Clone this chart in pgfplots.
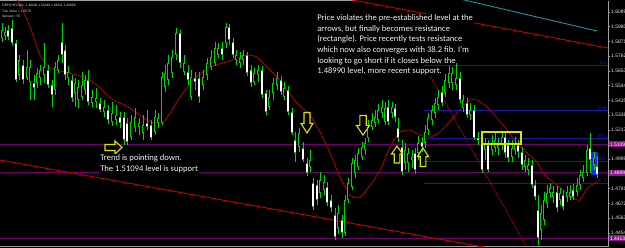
\documentclass[border=0pt]{standalone}
\usepackage{pgfplots}
\pgfplotsset{compat=1.18}
\usepackage{pgfplotstable}
\usepackage{fontspec}
\setmainfont{Carlito}
\newfontfamily\lsans{Liberation Sans}
\newcommand\tickfont{\lsans\fontsize{5}{6}\selectfont}
\newcommand\paraf{\fontsize{8.6}{10.65}\selectfont}
\newcommand\headf{\lsans\fontsize{3.3}{4}\selectfont}
\definecolor{cgreen}{RGB}{0,215,0}
\definecolor{cpurple}{RGB}{110,0,110}
\definecolor{cpurplebox}{RGB}{140,20,140}
\definecolor{cfib}{RGB}{25,25,170}
\definecolor{cred}{RGB}{200,0,0}
\definecolor{cma}{RGB}{175,0,0}
\definecolor{cteal}{RGB}{30,150,150}
\definecolor{cyel}{RGB}{215,225,0}
\definecolor{cblue}{RGB}{20,40,255}

% x h l o c  (bullish candles)
\pgfplotstableread{
x h l o c
2 1.6007 1.5866 1.5896 1.5955
5 1.5977 1.5881 1.5911 1.5940
19 1.5770 1.5585 1.5622 1.5733
27 1.5807 1.5585 1.5600 1.5681
30 1.5733 1.5437 1.5570 1.5681
37 1.5674 1.5526 1.5563 1.5637
40 1.5696 1.5548 1.5600 1.5659
44 1.5859 1.5563 1.5622 1.5681
55 1.5718 1.5474 1.5511 1.5681
58 1.5770 1.5637 1.5659 1.5733
68 1.5689 1.5548 1.5600 1.5644
75 1.5600 1.5385 1.5489 1.5563
78 1.5585 1.5378 1.5437 1.5533
82 1.5644 1.5437 1.5459 1.5548
85 1.5622 1.5474 1.5511 1.5585
92 1.5511 1.5385 1.5415 1.5459
96 1.5526 1.5378 1.5422 1.5452
104 1.5437 1.5311 1.5348 1.5385
112 1.5422 1.5245 1.5274 1.5341
116 1.5400 1.5252 1.5289 1.5326
131 1.5326 1.5141 1.5163 1.5274
135 1.5378 1.5200 1.5237 1.5311
139 1.5304 1.5178 1.5237 1.5267
143 1.5326 1.5141 1.5193 1.5252
155 1.5363 1.5178 1.5200 1.5311
158 1.5341 1.5230 1.5267 1.5304
162 1.5644 1.5252 1.5267 1.5607
165 1.5696 1.5496 1.5533 1.5637
168 1.5770 1.5548 1.5585 1.5711
172 1.5807 1.5600 1.5637 1.5755
176 1.5970 1.5733 1.5770 1.5933
184 1.5770 1.5622 1.5644 1.5711
191 1.5659 1.5437 1.5459 1.5607
203 1.5659 1.5511 1.5548 1.5607
207 1.5748 1.5585 1.5622 1.5711
211 1.5807 1.5659 1.5681 1.5755
215 1.5866 1.5689 1.5711 1.5822
218 1.5859 1.5748 1.5770 1.5822
226 1.6007 1.5822 1.5859 1.5977
236 1.5807 1.5696 1.5733 1.5770
240 1.5792 1.5674 1.5711 1.5748
243 1.5807 1.5696 1.5733 1.5770
254 1.5674 1.5548 1.5570 1.5637
258 1.5696 1.5570 1.5622 1.5659
269 1.5511 1.5363 1.5385 1.5459
273 1.5600 1.5437 1.5489 1.5563
277 1.5644 1.5511 1.5548 1.5600
284 1.5570 1.5437 1.5459 1.5526
299 1.5230 1.5052 1.5089 1.5193
310 1.5067 1.4904 1.4941 1.4993
320 1.4904 1.4712 1.4749 1.4845
324 1.4882 1.4734 1.4771 1.4830
338 1.4660 1.4445 1.4490 1.4601
345 1.4734 1.4431 1.4453 1.4697
348 1.4860 1.4675 1.4697 1.4823
352 1.5008 1.4771 1.4793 1.4971
355 1.5030 1.4860 1.4897 1.4993
358 1.5082 1.4919 1.4941 1.5045
362 1.5126 1.4993 1.5015 1.5089
365 1.5156 1.5030 1.5067 1.5119
368 1.5289 1.5126 1.5156 1.5237
372 1.5341 1.5215 1.5237 1.5289
375 1.5363 1.5237 1.5267 1.5311
378 1.5407 1.5267 1.5289 1.5363
382 1.5437 1.5304 1.5341 1.5385
385 1.5422 1.5252 1.5274 1.5378
392 1.5422 1.5304 1.5341 1.5385
405 1.5119 1.4919 1.4971 1.5067
408 1.5082 1.4904 1.4971 1.5045
412 1.5067 1.4934 1.4993 1.5015
418 1.5171 1.4993 1.5045 1.5119
425 1.5252 1.5082 1.5119 1.5200
428 1.5341 1.5178 1.5215 1.5304
432 1.5400 1.5252 1.5289 1.5363
435 1.5452 1.5304 1.5341 1.5415
438 1.5511 1.5363 1.5400 1.5459
445 1.5630 1.5459 1.5489 1.5585
449 1.5689 1.5526 1.5563 1.5637
452 1.5681 1.5511 1.5563 1.5637
456 1.5711 1.5511 1.5548 1.5600
463 1.5474 1.5348 1.5378 1.5437
470 1.5415 1.5289 1.5326 1.5363
485 1.5156 1.4993 1.5067 1.5119
492 1.5178 1.5030 1.5067 1.5119
495 1.5200 1.5052 1.5082 1.5141
498 1.5156 1.5030 1.5082 1.5104
502 1.5200 1.5067 1.5104 1.5163
512 1.5141 1.4978 1.5015 1.5082
515 1.5163 1.5030 1.5067 1.5119
525 1.5030 1.4904 1.4941 1.4993
528 1.5008 1.4882 1.4919 1.4956
541 1.4660 1.4401 1.4475 1.4601
544 1.4756 1.4512 1.4549 1.4697
547 1.4808 1.4638 1.4675 1.4749
550 1.4823 1.4712 1.4749 1.4786
553 1.4801 1.4675 1.4719 1.4756
560 1.4786 1.4660 1.4697 1.4749
567 1.4801 1.4682 1.4719 1.4756
570 1.4808 1.4697 1.4719 1.4756
577 1.4860 1.4727 1.4756 1.4808
580 1.4919 1.4771 1.4808 1.4882
583 1.4956 1.4830 1.4860 1.4904
587 1.5104 1.4875 1.4897 1.5067
594 1.5052 1.4919 1.4956 1.5008
}\bull

% x h l o c  (bearish candles)
\pgfplotstableread{
x h l o c
8 1.5992 1.5881 1.5955 1.5903
12 1.6029 1.5844 1.5970 1.5859
16 1.5881 1.5570 1.5859 1.5585
23 1.5733 1.5555 1.5696 1.5585
34 1.5622 1.5437 1.5563 1.5526
48 1.5696 1.5526 1.5659 1.5548
52 1.5585 1.5385 1.5548 1.5474
62 1.6007 1.5711 1.5866 1.5770
65 1.5844 1.5585 1.5807 1.5622
72 1.5622 1.5422 1.5585 1.5452
88 1.5659 1.5400 1.5585 1.5422
100 1.5452 1.5348 1.5415 1.5363
108 1.5400 1.5259 1.5363 1.5289
120 1.5348 1.5230 1.5311 1.5267
124 1.5348 1.5104 1.5311 1.5141
127 1.5304 1.5104 1.5267 1.5126
147 1.5363 1.5215 1.5267 1.5237
151 1.5289 1.5141 1.5252 1.5156
180 1.5955 1.5674 1.5933 1.5711
188 1.5696 1.5548 1.5644 1.5585
195 1.5644 1.5511 1.5600 1.5570
199 1.5644 1.5415 1.5600 1.5459
222 1.5866 1.5733 1.5822 1.5770
229 1.5999 1.5844 1.5977 1.5881
233 1.5896 1.5748 1.5866 1.5770
247 1.5792 1.5615 1.5770 1.5637
251 1.5696 1.5533 1.5659 1.5563
262 1.5689 1.5452 1.5659 1.5474
266 1.5511 1.5326 1.5489 1.5348
281 1.5615 1.5474 1.5585 1.5496
288 1.5541 1.5326 1.5511 1.5348
292 1.5378 1.5178 1.5348 1.5193
295 1.5200 1.4978 1.5141 1.5045
303 1.5126 1.4978 1.5082 1.4993
307 1.5008 1.4875 1.4971 1.4897
313 1.4860 1.4623 1.4823 1.4645
317 1.4845 1.4660 1.4808 1.4697
327 1.4830 1.4653 1.4793 1.4675
331 1.4734 1.4608 1.4697 1.4638
335 1.4638 1.4401 1.4586 1.4423
342 1.4586 1.4416 1.4549 1.4453
388 1.5437 1.5252 1.5385 1.5274
395 1.5407 1.5274 1.5378 1.5311
398 1.5304 1.5126 1.5230 1.5156
402 1.5141 1.4882 1.5089 1.4904
415 1.5082 1.4889 1.5045 1.4919
422 1.5163 1.5052 1.5126 1.5089
442 1.5541 1.5393 1.5496 1.5415
460 1.5644 1.5415 1.5600 1.5437
467 1.5452 1.5304 1.5415 1.5326
474 1.5400 1.5141 1.5363 1.5156
478 1.5200 1.5104 1.5156 1.5141
482 1.5156 1.4897 1.5126 1.4919
488 1.5141 1.4904 1.5104 1.4919
505 1.5200 1.5008 1.5163 1.5045
508 1.5141 1.4978 1.5104 1.5008
518 1.5141 1.5008 1.5104 1.5052
522 1.5089 1.4919 1.5052 1.4956
532 1.4993 1.4786 1.4956 1.4808
535 1.4845 1.4697 1.4808 1.4719
538 1.4734 1.4364 1.4623 1.4416
557 1.4801 1.4608 1.4756 1.4638
563 1.4771 1.4623 1.4734 1.4645
573 1.4815 1.4697 1.4771 1.4719
590 1.5193 1.4897 1.5082 1.4993
597 1.5025 1.4861 1.4949 1.4887
}\bear

\begin{document}
\begin{tikzpicture}
\useasboundingbox (0,0) rectangle (625bp,248bp);
\clip (0,0) rectangle (625bp,248bp);
\fill[black] (0,0) rectangle (625bp,248bp);
\draw[gray!75, line width=0.7bp] (0,247.6bp) -- (355bp,247.6bp);
\draw[gray!75, line width=0.7bp] (0,1.2bp) -- (608bp,1.2bp);
\begin{axis}[
  at={(0,1bp)}, anchor=south west,
  scale only axis, width=608bp, height=246bp,
  xmin=0, xmax=608, ymin=1.43494, ymax=1.61698,
  hide x axis,
  axis y line*=right,
  y axis line style={draw=gray!75, line width=0.7bp},
  ytick={1.4454,1.4563,1.4672,1.4781,1.4999,1.5217,1.5326,1.5435,1.5544,1.5653,1.5762,1.5871,1.5980,1.6089},
  /pgf/number format/assume math mode=true,
  yticklabel style={font=\tickfont, text=white!90!black, anchor=west, inner sep=0pt, xshift=1bp,
    /pgf/number format/fixed, /pgf/number format/fixed zerofill, /pgf/number format/precision=5},
  major tick length=2bp, tick align=outside,
  ytick style={draw=gray!75, line width=0.5bp},
  clip mode=individual,
]
% horizontal support / resistance lines
\addplot[cpurple, line width=0.9bp] coordinates {(0,1.51094) (608,1.51094)};
\addplot[cpurple, line width=0.9bp] coordinates {(0,1.48990) (608,1.48990)};
\addplot[cpurple, line width=0.9bp] coordinates {(0,1.44138) (608,1.44138)};
% fibonacci levels
\addplot[cfib, line width=0.8bp] coordinates {(424,1.5694) (608,1.5694)};
\addplot[cfib, line width=0.8bp] coordinates {(424,1.5361) (608,1.5361)};
\addplot[cfib, line width=0.8bp] coordinates {(424,1.5154) (608,1.5154)};
\addplot[cfib, line width=0.8bp] coordinates {(424,1.4986) (608,1.4986)};
\addplot[cfib, line width=0.8bp] coordinates {(424,1.4821) (608,1.4821)};
% blue rectangle
\fill[cblue] (axis cs:591,1.5052) rectangle (axis cs:598,1.4882);
% trend lines
\addplot[cred, line width=0.9bp] coordinates {(0,1.49932) (490,1.43405)};
\addplot[cred, line width=0.9bp] coordinates {(350,1.61809) (608,1.58220)};
\addplot[cteal, line width=0.9bp] coordinates {(460,1.61846) (597,1.59478)};
\addplot[cred, line width=0.9bp, densely dotted] coordinates {(424,1.5696) (530,1.4305)};
% moving average
\addplot[cma, line width=0.8bp, smooth, tension=0.4] coordinates {
(15,1.6214) (25,1.6066) (33,1.5918) (40,1.5770) (50,1.5674) (65,1.5644) (80,1.5615)
(90,1.5585) (100,1.5526) (113,1.5437) (125,1.5400) (137,1.5341) (147,1.5289) (155,1.5267)
(163,1.5274) (170,1.5341) (180,1.5459) (193,1.5585) (210,1.5681) (223,1.5711) (237,1.5748)
(247,1.5770) (257,1.5755) (267,1.5681) (277,1.5607) (287,1.5511) (297,1.5415) (310,1.5326)
(320,1.5200) (330,1.5045) (340,1.4867) (350,1.4734) (360,1.4719) (370,1.4808) (380,1.4919)
(390,1.5089) (400,1.5200) (410,1.5215) (420,1.5178) (430,1.5163) (440,1.5200) (450,1.5282)
(460,1.5363) (470,1.5437) (477,1.5437) (487,1.5385) (497,1.5304) (507,1.5215) (517,1.5119)
(527,1.5045) (537,1.4978) (543,1.4897) (553,1.4830) (563,1.4771) (573,1.4712) (580,1.4697)
(587,1.4786) (597,1.4830)};
% wicks
\addplot[cgreen, line width=0.8bp, quiver={u=0, v=\thisrow{h}-\thisrow{l}}] table[x=x, y=l] {\bull};
\addplot[cgreen, line width=0.8bp, quiver={u=0, v=\thisrow{h}-\thisrow{l}}] table[x=x, y=l] {\bear};
% bodies
\addplot[cgreen, line width=2.7bp, quiver={u=0, v=\thisrow{c}-\thisrow{o}}] table[x=x, y=o] {\bull};
\addplot[black, line width=1.0bp, shorten >=0.7bp, shorten <=0.7bp, quiver={u=0, v=\thisrow{c}-\thisrow{o}}] table[x=x, y=o] {\bull};
\addplot[cgreen, line width=2.7bp, quiver={u=0, v=\thisrow{c}-\thisrow{o}}] table[x=x, y=o] {\bear};
\addplot[white, line width=1.5bp, shorten >=0.6bp, shorten <=0.6bp, quiver={u=0, v=\thisrow{c}-\thisrow{o}}] table[x=x, y=o] {\bear};
% yellow rectangle and arrows
\draw[cyel, line width=1.2bp] (axis cs:482,1.5200) rectangle (axis cs:521,1.5112);
\draw[cyel, line width=1.1bp, line join=miter] (axis cs:122,1.5086)
  -- ++(canvas cs:x=-7bp,y=6.5bp) -- ++(canvas cs:x=0bp,y=-3.5bp) -- ++(canvas cs:x=-10bp,y=0bp)
  -- ++(canvas cs:x=0bp,y=-6bp) -- ++(canvas cs:x=10bp,y=0bp) -- ++(canvas cs:x=0bp,y=-3.5bp) -- cycle;
\draw[cyel, line width=1.1bp, line join=miter] (axis cs:307,1.5193)
  -- ++(canvas cs:x=-6bp,y=9.5bp) -- ++(canvas cs:x=3bp,y=0bp) -- ++(canvas cs:x=0bp,y=11bp)
  -- ++(canvas cs:x=6bp,y=0bp) -- ++(canvas cs:x=0bp,y=-11bp) -- ++(canvas cs:x=3bp,y=0bp) -- cycle;
\draw[cyel, line width=1.1bp, line join=miter] (axis cs:363,1.5178)
  -- ++(canvas cs:x=-6.5bp,y=9.5bp) -- ++(canvas cs:x=3.3bp,y=0bp) -- ++(canvas cs:x=0bp,y=10bp)
  -- ++(canvas cs:x=6.4bp,y=0bp) -- ++(canvas cs:x=0bp,y=-10bp) -- ++(canvas cs:x=3.3bp,y=0bp) -- cycle;
\draw[cyel, line width=1.1bp, line join=miter] (axis cs:397,1.5097)
  -- ++(canvas cs:x=-5.5bp,y=-8bp) -- ++(canvas cs:x=2.7bp,y=0bp) -- ++(canvas cs:x=0bp,y=-9bp)
  -- ++(canvas cs:x=5.6bp,y=0bp) -- ++(canvas cs:x=0bp,y=9bp) -- ++(canvas cs:x=2.7bp,y=0bp) -- cycle;
\draw[cyel, line width=1.1bp, line join=miter] (axis cs:423,1.5082)
  -- ++(canvas cs:x=-5.5bp,y=-8.5bp) -- ++(canvas cs:x=2.7bp,y=0bp) -- ++(canvas cs:x=0bp,y=-10bp)
  -- ++(canvas cs:x=5.6bp,y=0bp) -- ++(canvas cs:x=0bp,y=10bp) -- ++(canvas cs:x=2.7bp,y=0bp) -- cycle;
% texts
\begin{scope}[every node/.style={anchor=base west, inner sep=0.6bp, fill=black, text=white!95!black, font=\paraf}]
\node at (axis cs:316.5,1.60240) {Price violates the pre-established level at the};
\node at (axis cs:316.5,1.59452) {arrows, but finally becomes resistance};
\node at (axis cs:316.5,1.58664) {(rectangle). Price recently tests resistance};
\node at (axis cs:316.5,1.57876) {which now also converges with 38.2 fib. I'm};
\node at (axis cs:316.5,1.57088) {looking to go short if it closes below the};
\node at (axis cs:316.5,1.56300) {1.48990 level, more recent support.};
\node at (axis cs:99.5,1.49858) {Trend is pointing down.};
\node at (axis cs:99.5,1.49081) {The 1.51094 level is support};
\end{scope}
\begin{scope}[every node/.style={anchor=south east, inner sep=0.3bp, text=cfib, font=\lsans\fontsize{4.5}{5}\selectfont}]
\node at (axis cs:607,1.5694) {0.0};
\node at (axis cs:607,1.5361) {23.6};
\node at (axis cs:607,1.5154) {38.2};
\node at (axis cs:607,1.4986) {50.0};
\node at (axis cs:607,1.4821) {61.8};
\end{scope}
\begin{scope}[every node/.style={anchor=west, inner sep=0.8bp, fill=cpurplebox, text=white, font=\tickfont, minimum height=6bp}]
\node at (axis cs:609,1.51094) {1.51094};
\node at (axis cs:609,1.48990) {1.48990};
\node at (axis cs:609,1.44138) {1.44138};
\end{scope}
\begin{scope}[every node/.style={anchor=base west, inner sep=0pt, text=white!85!black, font=\headf}]
\node at (axis cs:2,1.61254) {GBPCHF,Daily\ \ 1.49490 1.50249 1.48611 1.48866};
\node at (axis cs:2,1.60869) {Tick Value = 1.0578};
\node at (axis cs:2,1.60484) {Spread = 55};
\end{scope}
\end{axis}
\end{tikzpicture}
\end{document}
